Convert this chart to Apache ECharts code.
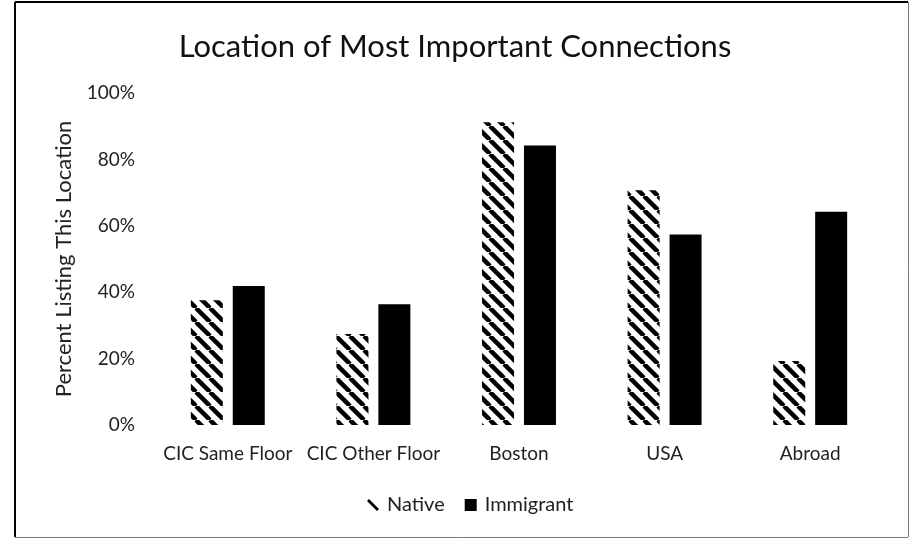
<!DOCTYPE html>
<html>
<head>
<meta charset="utf-8">
<script src="https://cdn.jsdelivr.net/npm/echarts@6/dist/echarts.min.js"></script>
<style>html,body{margin:0;padding:0;background:#fff;}#c{width:910px;height:539px;}</style>
</head>
<body>
<div id="c"></div>
<script>
const categories = ['CIC Same Floor', 'CIC Other Floor', 'Boston', 'USA', 'Abroad'];
const nativeValues = [37.6, 27.4, 91.2, 70.7, 19.3];
const immigrantValues = [41.9, 36.4, 84.2, 57.4, 64.2];
const seriesNames = ['Native', 'Immigrant'];
const titleText = 'Location of Most Important Connections';
const yAxisName = 'Percent Listing This Location';

function makeHatch() {
  const s = 14;
  const cv = document.createElement('canvas');
  cv.width = s; cv.height = s;
  const ctx = cv.getContext('2d');
  ctx.fillStyle = '#fff';
  ctx.fillRect(0, 0, s, s);
  ctx.strokeStyle = '#000';
  ctx.lineWidth = 4.5;
  for (const x0 of [-s, 0, s]) {
    ctx.beginPath();
    ctx.moveTo(x0, 0);
    ctx.lineTo(x0 + s, s);
    ctx.stroke();
  }
  return cv;
}

const font = 'Lato';
const chart = echarts.init(document.getElementById('c'));
chart.setOption({
  animation: false,
  backgroundColor: '#fff',
  title: {
    text: titleText, left: 'center', top: 26,
    textStyle: { fontFamily: font, fontSize: 31, fontWeight: 'normal', color: '#111' }
  },
  legend: {
    bottom: 19, left: 362, itemWidth: 12, itemHeight: 12, itemGap: 20,
    textStyle: { fontFamily: font, fontSize: 20, color: '#222', padding: [0, 0, 0, 3] },
    data: [
      { name: seriesNames[0], icon: 'path://M0,2L2,0L12,10L10,12Z', itemStyle: { color: '#000' } },
      { name: seriesNames[1], icon: 'rect', itemStyle: { color: '#000' } }
    ]
  },
  grid: { left: 155, right: 27, top: 93, bottom: 114 },
  xAxis: {
    type: 'category', data: categories,
    axisLine: { show: false }, axisTick: { show: false },
    axisLabel: { fontFamily: font, fontSize: 19, color: '#222', margin: 19, interval: 0 }
  },
  yAxis: {
    type: 'value', min: 0, max: 100, interval: 20,
    name: yAxisName, nameLocation: 'middle', nameGap: 80, nameRotate: 90,
    nameTextStyle: { fontFamily: font, fontSize: 22, color: '#222' },
    axisLine: { show: false }, axisTick: { show: false }, splitLine: { show: false },
    axisLabel: { fontFamily: font, fontSize: 19, color: '#222', margin: 20, formatter: '{value}%' }
  },
  series: [
    { name: seriesNames[0], type: 'bar', data: nativeValues, barWidth: 32, barGap: '31%',
      itemStyle: { color: { image: makeHatch(), repeat: 'repeat' } } },
    { name: seriesNames[1], type: 'bar', data: immigrantValues, barWidth: 32,
      itemStyle: { color: '#000' } }
  ],
  graphic: [
    { type: 'line', shape: { x1: 15, y1: 2, x2: 15, y2: 537 }, style: { stroke: '#000', lineWidth: 2 } },
    { type: 'line', shape: { x1: 15, y1: 2, x2: 908, y2: 2 }, style: { stroke: '#000', lineWidth: 2 } },
    { type: 'line', shape: { x1: 908.5, y1: 2, x2: 908.5, y2: 537 }, style: { stroke: '#777', lineWidth: 1 } },
    { type: 'line', shape: { x1: 15, y1: 537.5, x2: 908, y2: 537.5 }, style: { stroke: '#777', lineWidth: 1 } }
  ]
});
</script>
</body>
</html>
